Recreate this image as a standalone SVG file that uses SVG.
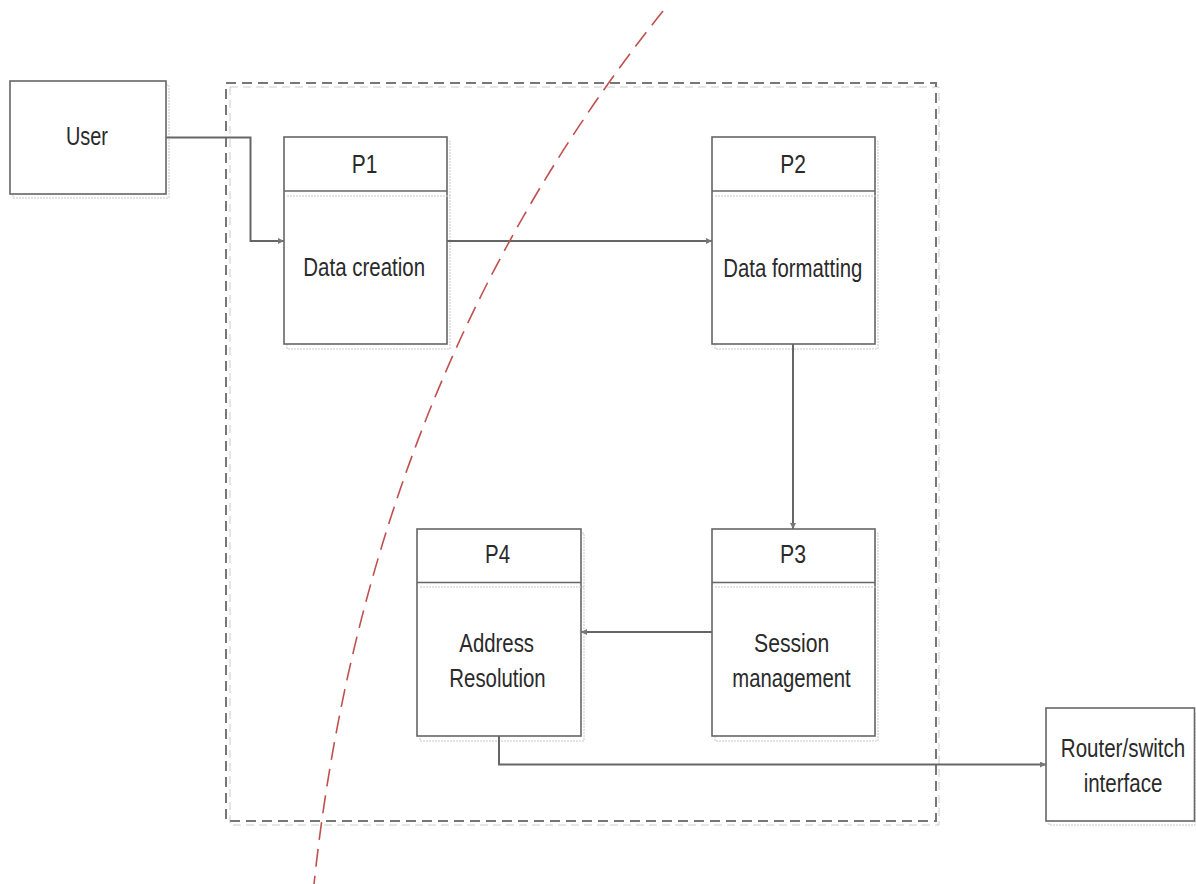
<svg xmlns="http://www.w3.org/2000/svg" width="1196" height="884" viewBox="0 0 1196 884">
  <style>
    .box { fill: #ffffff; stroke: #666666; stroke-width: 1.6; }
    .ghost { fill: none; stroke: #c8c8c8; stroke-width: 1; stroke-dasharray: 2 1; }
    .div { stroke: #666666; stroke-width: 1.6; }
    .lbl { font-family: "Liberation Sans", Arial, sans-serif; font-size: 26px; fill: #2a2a2a; text-anchor: middle; }
    .conn { fill: none; stroke: #666666; stroke-width: 2; marker-end: url(#arrow); }
    .bound { fill: none; stroke: #777777; stroke-width: 2; stroke-dasharray: 10 6; }
    .bound-ghost { fill: none; stroke: #cccccc; stroke-width: 1; stroke-dasharray: 8 5; }
    .split { fill: none; stroke: #c0504d; stroke-width: 1.6; stroke-dasharray: 18 9; }
  </style>
  <defs>
    <marker id="arrow" markerUnits="userSpaceOnUse" markerWidth="7" markerHeight="7" refX="6" refY="3" orient="auto">
      <path d="M0,0 L6,3 L0,6 z" fill="#777777"/>
    </marker>
  </defs>

  <rect width="1196" height="884" fill="#ffffff"/>

  <!-- system boundary -->
  <g id="boundary">
    <rect class="bound-ghost" x="230" y="87" width="709" height="738"/>
    <rect class="bound" x="226" y="83" width="710" height="738"/>
  </g>

  <!-- external entity: User -->
  <g id="user">
    <rect class="ghost" x="13" y="85" width="156" height="113"/>
    <rect class="box" x="10" y="81" width="156" height="113"/>
    <text class="lbl" x="87" y="144.5" textLength="42" lengthAdjust="spacingAndGlyphs">User</text>
  </g>

  <!-- process P1 -->
  <g id="p1">
    <rect class="ghost" x="287" y="141" width="163" height="208"/>
    <rect class="box" x="284" y="137" width="163" height="207"/>
    <line class="div" x1="284" y1="191" x2="447" y2="191"/>
    <line class="ghost" x1="287" y1="196" x2="450" y2="196"/>
    <text class="lbl" x="364.5" y="173" textLength="25.6" lengthAdjust="spacingAndGlyphs">P1</text>
    <text class="lbl" x="364.2" y="276" textLength="121.7" lengthAdjust="spacingAndGlyphs">Data creation</text>
  </g>

  <!-- process P2 -->
  <g id="p2">
    <rect class="ghost" x="715" y="141" width="163" height="208"/>
    <rect class="box" x="712" y="137" width="163" height="207"/>
    <line class="div" x1="712" y1="191" x2="875" y2="191"/>
    <line class="ghost" x1="715" y1="196" x2="878" y2="196"/>
    <text class="lbl" x="793" y="173" textLength="25.7" lengthAdjust="spacingAndGlyphs">P2</text>
    <text class="lbl" x="792.8" y="276.7" textLength="139" lengthAdjust="spacingAndGlyphs">Data formatting</text>
  </g>

  <!-- process P3 -->
  <g id="p3">
    <rect class="ghost" x="715" y="533" width="163" height="208"/>
    <rect class="box" x="712" y="529" width="163" height="207"/>
    <line class="div" x1="712" y1="582.5" x2="875" y2="582.5"/>
    <line class="ghost" x1="715" y1="587" x2="878" y2="587"/>
    <text class="lbl" x="793" y="563" textLength="26" lengthAdjust="spacingAndGlyphs">P3</text>
    <text class="lbl" x="791.7" y="651.7" textLength="75.3" lengthAdjust="spacingAndGlyphs">Session</text>
    <text class="lbl" x="791.5" y="687" textLength="118.4" lengthAdjust="spacingAndGlyphs">management</text>
  </g>

  <!-- process P4 -->
  <g id="p4">
    <rect class="ghost" x="420" y="533" width="164" height="208"/>
    <rect class="box" x="417" y="529" width="164" height="207"/>
    <line class="div" x1="417" y1="582.5" x2="581" y2="582.5"/>
    <line class="ghost" x1="420" y1="587" x2="584" y2="587"/>
    <text class="lbl" x="497.5" y="563" textLength="25" lengthAdjust="spacingAndGlyphs">P4</text>
    <text class="lbl" x="496.7" y="651.7" textLength="74.7" lengthAdjust="spacingAndGlyphs">Address</text>
    <text class="lbl" x="497.5" y="687" textLength="96.3" lengthAdjust="spacingAndGlyphs">Resolution</text>
  </g>

  <!-- external entity: Router/switch interface (labels narrowed with a scale) -->
  <g id="router">
    <rect class="ghost" x="1049" y="712" width="146" height="113"/>
    <rect class="box" x="1046" y="708" width="148.5" height="113"/>
    <text class="lbl" transform="translate(1123,756.7) scale(0.79,1)">Router/switch</text>
    <text class="lbl" transform="translate(1123,791.7) scale(0.79,1)">interface</text>
  </g>

  <!-- data flows -->
  <g id="connectors">
    <path class="conn" d="M166,137.5 H250.5 V241 H284"/>
    <path class="conn" d="M447,241 H712"/>
    <path class="conn" d="M793,344 V529"/>
    <path class="conn" d="M712,632 H581"/>
    <path class="conn" d="M499,736 V764.5 H1046"/>
  </g>

  <!-- trust boundary curve -->
  <g id="split-line">
    <path class="split" d="M663,11 Q368,380 314,884"/>
  </g>
</svg>
